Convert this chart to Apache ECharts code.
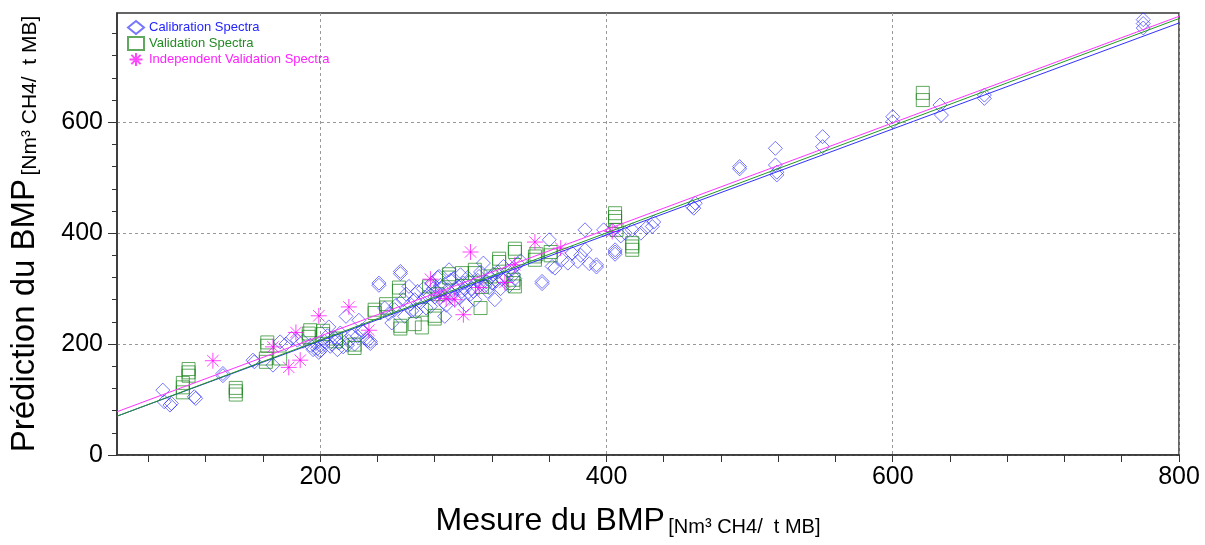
<!DOCTYPE html>
<html>
<head>
<meta charset="utf-8">
<script src="https://cdn.jsdelivr.net/npm/echarts@6/dist/echarts.min.js"></script>
<style>
html,body{margin:0;padding:0;background:#fff;}
#chart{width:1205px;height:545px;}
</style>
</head>
<body>
<div id="chart"></div>
<script>
// ---- Data ----
const calibration = [
 [90,117],[91,96],[95,90],[96,93],[112,105],[113,102],[132,147],[132,143],[153,171],[154,168],[167,162],[172,204],[176,200],[180,210],[184,207],[188,205],
 [193,198],[195,190],[197,201],[199,185],[201,195],[203,205],[205,215],[206,231],[208,200],[210,212],[212,190],[214,220],[216,195],[218,250],[220,205],[222,215],[224,200],[227,243],[229,225],[232,210],[235,201],[235,205],
 [198,192],[200,188],[207,196],[213,202],[219,198],[226,214],[230,222],[233,206],
 [241,310],[241,306],[245,265],[248,255],[250,238],[253,270],[256,331],[256,327],[258,280],[260,290],[262,304],[264,260],[266,280],[268,295],[270,275],[272,300],[274,265],[276,290],[278,310],[280,285],[282,320],[283,322],[285,300],[287,250],[288,270],[290,334],[291,315],[292,290],[294,280],[296,305],[298,325],[299,295],
 [252,262],[259,250],[263,272],[267,258],[273,285],[277,268],[281,296],[284,306],[286,288],[289,298],[293,318],[295,300],[297,284],[286,276],[279,300],
 [300,310],[302,270],[303,320],[305,290],[306,300],[308,280],[310,315],[312,330],[314,346],[315,305],[317,295],[319,320],[320,310],[322,280],[324,330],[326,300],[328,340],[330,320],[332,305],[334,335],[336,318],[338,345],
 [301,300],[304,312],[307,295],[311,322],[316,312],[318,302],[321,326],[323,314],[327,318],[331,332],[335,325],[340,350],
 [355,313],[355,309],[360,388],[362,340],[364,337],[369,352],[373,346],[376,364],[380,349],[382,360],[385,370],[385,406],[388,345],[393,343],[393,339],[398,406],[404,405],[406,370],[406,366],[406,362],[410,395],[413,400],[418,406],[424,400],[428,410],[432,412],[433,420],[460,448],[461,445],[462,454],
 [493,520],[493,516],[518,553],[518,523],[519,505],[519,510],[551,574],[551,556],[600,610],[600,601],[633,631],[634,613],[664,649],[664,643],[775,785],[775,778],[775,770]
];
const validation = [
 [104,113],[104,122],[104,130],[108,143],[108,149],[108,155],[141,109],[141,115],[141,121],[163,197],[163,203],[162,168],[162,174],[172,174],
 [192,213],[192,219],[193,225],[202,218],[202,224],[211,205],[211,210],[224,193],[224,199],[238,256],[238,262],[246,266],[246,272],[255,296],[255,302],
 [256,228],[256,233],[266,236],[271,230],[271,262],[276,304],[280,246],[280,251],[282,290],[290,320],[290,326],[299,328],[308,328],[308,334],[312,265],
 [313,303],[319,322],[325,348],[325,354],[335,310],[335,316],[336,304],[336,366],[336,372],[350,352],[350,358],[351,362],[361,360],[361,366],
 [406,422],[406,429],[406,436],[407,406],[418,370],[418,376],[418,382],[621,640],[621,653]
];
const independent = [
 [125,170],[167,195],[178,158],[186,171],[183,221],[199,251],[220,267],[234,225],[277,317],[283,287],[288,282],[294,280],[300,253],[305,366],[311,302],[329,311],[336,343],[350,384],[368,373],[404,403]
];
// regression lines (end points)
const fitCalibration = [[58,70],[800,779]];
const fitValidation = [[58,70],[800,787]];
const fitIndependent = [[58,78],[800,791]];

const xMajorTicks = [200,400,600,800];
const xMinorTicks = [80,120,160,240,280,320,360,440,480,520,560,640,680,720,760];
const yMajorTicks = [0,200,400,600];
const yMinorTicks = [40,80,120,160,240,280,320,360,440,480,520,560,640,680,720,760];

const FONT = 'Liberation Sans, Arial, sans-serif';
const chart = echarts.init(document.getElementById('chart'), null, {renderer:'canvas'});
const asterisk = 'path://M8,0L8,16M0,8L16,8M2.3,2.3L13.7,13.7M2.3,13.7L13.7,2.3';

chart.setOption({
  animation:false,
  backgroundColor:'#fff',
  textStyle:{fontFamily:FONT},
  grid:{left:115,right:26,top:13,bottom:90,show:true,borderColor:'#333',borderWidth:1.5,backgroundColor:'transparent'},
  legend:{
    orient:'vertical',left:122,top:15,itemGap:1,itemWidth:16,itemHeight:13,
    textStyle:{fontSize:13,fontFamily:FONT,lineHeight:14},
    data:[
      {name:'Calibration Spectra',textStyle:{color:'#2424ff'}},
      {name:'Validation Spectra',textStyle:{color:'#248a24'}},
      {name:'Independent Validation Spectra',textStyle:{color:'#ff22ff'}}
    ]
  },
  xAxis:[{
    type:'value',min:58,max:800,position:'bottom',
    axisLine:{lineStyle:{color:'#333',width:1.5}},
    axisTick:{customValues:xMajorTicks,length:7,lineStyle:{color:'#333'}},
    axisLabel:{customValues:xMajorTicks,fontSize:25,color:'#000',margin:10,fontFamily:FONT},
    splitLine:{show:true,lineStyle:{color:'#999',type:[3,3],width:1}},
    name:'{a|Mesure du BMP} {b|[Nm³ CH4/  t MB]}',
    nameLocation:'middle',nameGap:50,
    nameTextStyle:{rich:{a:{fontSize:32,color:'#000',fontFamily:FONT},b:{fontSize:20,color:'#000',fontFamily:FONT,verticalAlign:'bottom',padding:[0,40,0,0]}}}
  },{
    type:'value',min:58,max:800,position:'bottom',
    axisLine:{show:false},
    axisTick:{customValues:xMinorTicks,length:7,lineStyle:{color:'#333'}},
    axisLabel:{show:false},
    splitLine:{show:false}
  }],
  yAxis:[{
    type:'value',min:0,max:797,position:'left',
    axisLine:{show:true,lineStyle:{color:'#333',width:1.5}},
    axisTick:{show:true,customValues:yMajorTicks,length:9,lineStyle:{color:'#333'}},
    axisLabel:{customValues:yMajorTicks,fontSize:25,color:'#000',margin:14,fontFamily:FONT},
    splitLine:{show:true,lineStyle:{color:'#999',type:[3,3],width:1}},
    name:'{a|Prédiction du BMP} {b|[Nm³ CH4/  t MB]}',
    nameLocation:'middle',nameGap:76,nameRotate:90,
    nameTextStyle:{rich:{a:{fontSize:33,color:'#000',fontFamily:FONT},b:{fontSize:21,color:'#000',fontFamily:FONT,verticalAlign:'bottom'}}}
  },{
    type:'value',min:0,max:797,position:'left',
    axisLine:{show:false},
    axisTick:{show:true,customValues:yMinorTicks,length:5,lineStyle:{color:'#333'}},
    axisLabel:{show:false},
    splitLine:{show:false}
  }],
  series:[
    {name:'Calibration Spectra',type:'scatter',data:calibration,symbol:'diamond',symbolSize:14,
     itemStyle:{color:'transparent',borderColor:'rgba(40,40,255,0.8)',borderWidth:1},emphasis:{disabled:true},silent:true},
    {name:'Validation Spectra',type:'scatter',data:validation,symbol:'rect',symbolSize:13,
     itemStyle:{color:'transparent',borderColor:'rgba(20,130,20,0.85)',borderWidth:1},emphasis:{disabled:true},silent:true},
    {name:'Independent Validation Spectra',type:'scatter',data:independent,symbol:asterisk,symbolSize:16,
     itemStyle:{color:'transparent',borderColor:'rgba(255,0,255,0.9)',borderWidth:1},emphasis:{disabled:true},silent:true},
    {name:'fitCal',type:'line',data:fitCalibration,symbol:'none',lineStyle:{color:'#3030ff',width:1},silent:true,z:3},
    {name:'fitVal',type:'line',data:fitValidation,symbol:'none',lineStyle:{color:'#229922',width:1},silent:true,z:3},
    {name:'fitInd',type:'line',data:fitIndependent,symbol:'none',lineStyle:{color:'#ff33ff',width:1},silent:true,z:3}
  ]
});
</script>
</body>
</html>
